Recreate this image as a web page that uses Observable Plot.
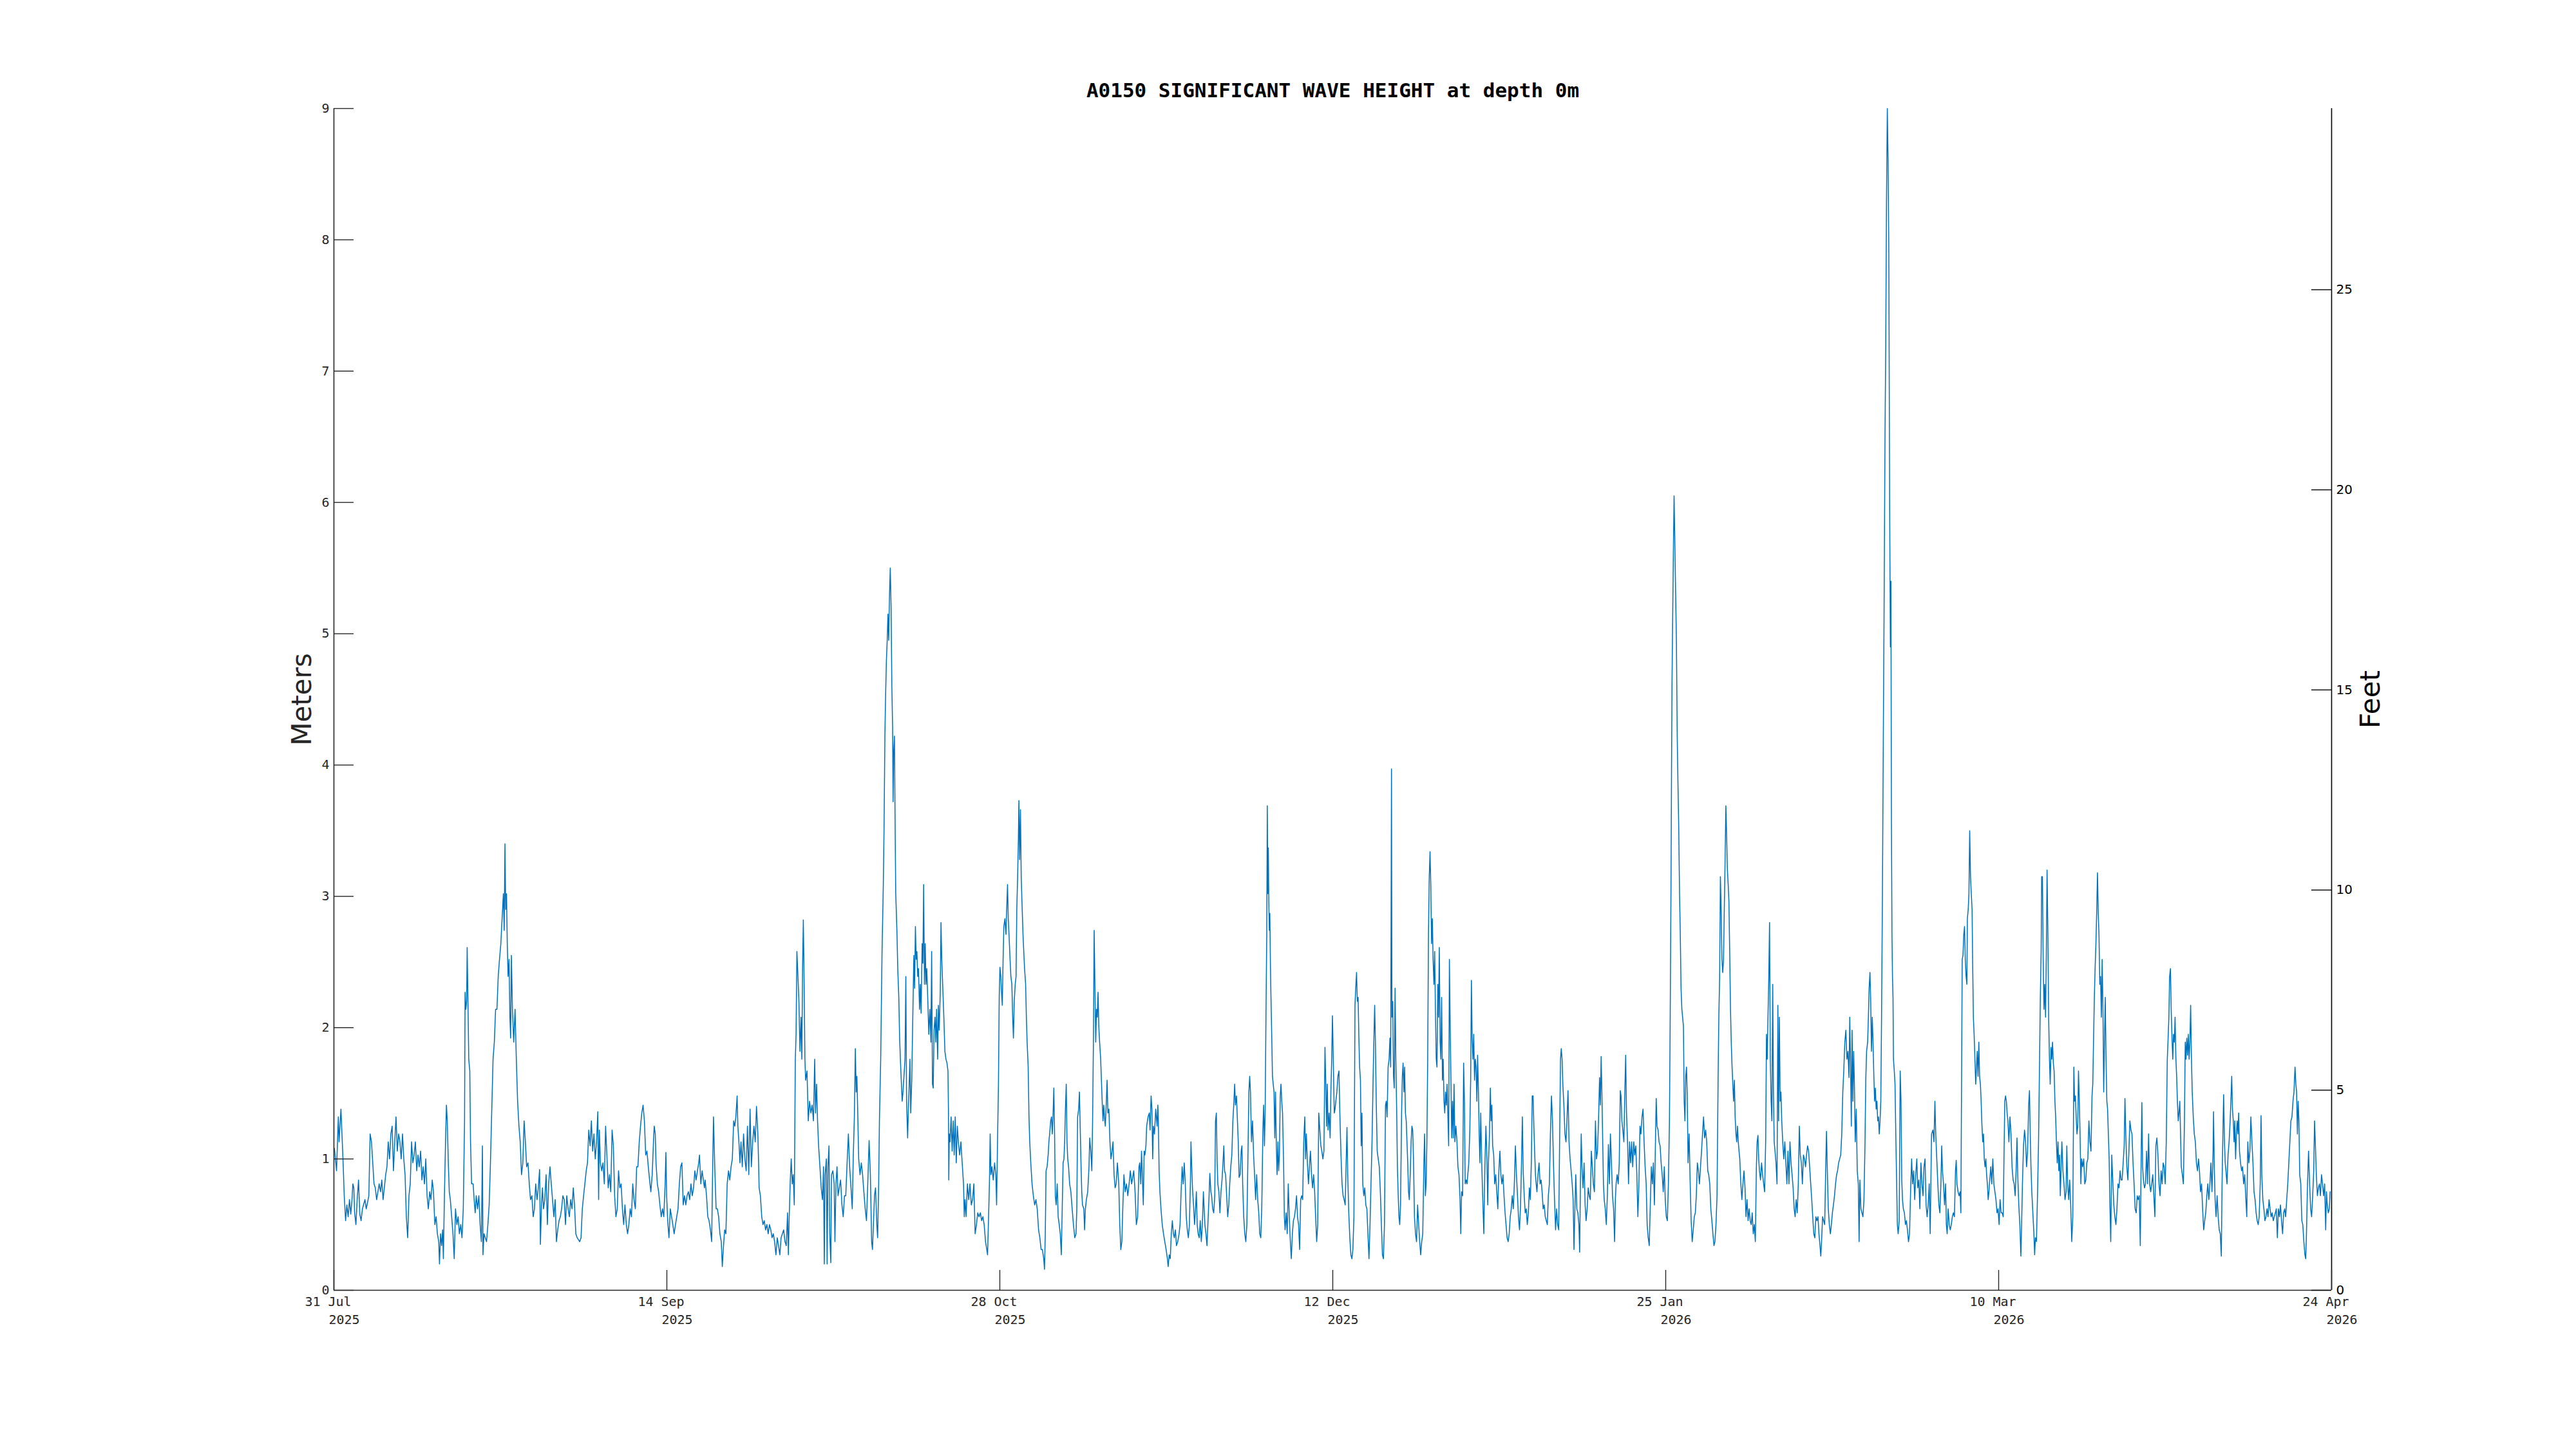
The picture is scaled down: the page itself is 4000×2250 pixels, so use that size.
<!DOCTYPE html>
<html>
<head>
<meta charset="utf-8">
<script src="https://cdn.jsdelivr.net/npm/d3@7"></script>
<script src="https://cdn.jsdelivr.net/npm/@observablehq/plot@0.6"></script>
<style>
  html, body { margin: 0; padding: 0; background: #ffffff; }
  #chart { width: 4000px; height: 2250px; }
</style>
</head>
<body>
<div id="chart"></div>
<script>
// ---------------- data ----------------
const chartTitle = "A0150 SIGNIFICANT WAVE HEIGHT at depth 0m";
const leftLabel = "Meters";
const rightLabel = "Feet";
const startDate = Date.UTC(2025, 6, 31); // 31 Jul 2025
const endDate = Date.UTC(2026, 3, 24);   // 24 Apr 2026
const xTickLabels = [
  ["31 Jul", "2025"], ["14 Sep", "2025"], ["28 Oct", "2025"], ["12 Dec", "2025"],
  ["25 Jan", "2026"], ["10 Mar", "2026"], ["24 Apr", "2026"]
];
const meterTicks = [0, 1, 2, 3, 4, 5, 6, 7, 8, 9];
const feetTicks = [0, 5, 10, 15, 20, 25];
const metersPerFoot = 0.3048;

// [days since 31 Jul 2025, significant wave height in metres]
const samples = [
[0.07,1.08],[0.35,0.91],[0.59,1.32],[0.69,1.13],[0.94,1.38],[1.21,1.00],[1.38,0.72],[1.56,0.53],[1.73,0.65],[1.90,0.56],
[2.08,0.69],[2.25,0.58],[2.42,0.69],[2.53,0.81],[2.66,0.78],[2.77,0.59],[2.94,0.50],[3.11,0.69],[3.29,0.84],[3.46,0.58],
[3.63,0.53],[3.81,0.62],[4.15,0.69],[4.32,0.62],[4.50,0.67],[4.67,0.72],[4.84,1.19],[5.02,1.13],[5.19,0.97],[5.36,0.81],
[5.53,0.78],[5.71,0.69],[5.88,0.75],[6.05,0.81],[6.23,0.75],[6.40,0.84],[6.57,0.69],[6.74,0.78],[6.92,0.88],[7.09,0.94],
[7.26,1.13],[7.44,1.00],[7.61,1.19],[7.78,1.25],[7.96,0.91],[8.13,1.13],[8.30,1.32],[8.47,1.06],[8.65,1.19],[8.82,1.13],
[8.99,1.00],[9.17,1.19],[9.34,1.00],[9.51,0.88],[9.68,0.56],[9.86,0.40],[10.03,0.72],[10.20,0.81],[10.38,1.13],[10.55,0.97],
[10.72,1.03],[10.89,1.13],[11.07,0.91],[11.24,1.03],[11.41,0.94],[11.59,1.06],[11.76,0.84],[11.93,0.94],[12.10,0.81],[12.28,1.00],
[12.45,0.72],[12.62,0.62],[12.80,0.75],[12.97,0.69],[13.14,0.84],[13.31,0.75],[13.49,0.50],[13.66,0.56],[13.83,0.43],[14.01,0.37],
[14.11,0.20],[14.25,0.43],[14.39,0.34],[14.53,0.46],[14.63,0.24],[14.77,0.72],[14.94,1.19],[15.04,1.41],[15.15,1.29],[15.29,0.97],
[15.42,0.75],[15.56,0.69],[15.74,0.56],[15.91,0.43],[16.08,0.24],[16.25,0.62],[16.43,0.50],[16.60,0.56],[16.77,0.43],[16.95,0.50],
[17.12,0.40],[17.29,0.62],[17.46,1.29],[17.53,2.27],[17.64,2.14],[17.74,2.20],[17.81,2.61],[17.91,2.23],[18.02,1.76],[18.16,1.67],
[18.26,1.13],[18.40,0.81],[18.61,0.81],[18.74,0.69],[18.88,0.59],[19.02,0.72],[19.19,0.62],[19.37,0.72],[19.54,0.50],[19.71,0.37],
[19.85,1.10],[19.92,0.27],[20.06,0.43],[20.23,0.40],[20.40,0.37],[20.58,0.50],[20.75,0.65],[20.92,0.97],[21.10,1.38],[21.27,1.76],
[21.44,1.89],[21.61,2.14],[21.79,2.14],[21.96,2.39],[22.13,2.52],[22.31,2.64],[22.48,2.83],[22.65,3.02],[22.76,2.74],[22.86,3.40],
[22.96,2.90],[23.07,3.02],[23.17,2.64],[23.28,2.39],[23.41,2.52],[23.52,2.08],[23.62,1.92],[23.72,2.55],[23.86,2.14],[24.03,1.89],
[24.21,2.14],[24.38,1.76],[24.55,1.44],[24.73,1.25],[24.90,1.13],[25.07,0.88],[25.25,0.97],[25.42,1.29],[25.59,1.13],[25.76,0.94],
[25.94,0.97],[26.11,0.81],[26.28,0.69],[26.46,0.72],[26.63,0.56],[26.80,0.62],[26.97,0.81],[27.15,0.69],[27.32,0.78],[27.49,0.92],
[27.60,0.35],[27.74,0.65],[27.87,0.78],[28.01,0.62],[28.18,0.69],[28.36,0.88],[28.53,0.50],[28.70,0.81],[28.88,0.94],[29.05,0.81],
[29.22,0.69],[29.40,0.56],[29.57,0.69],[29.74,0.37],[29.91,0.46],[30.09,0.53],[30.26,0.56],[30.43,0.62],[30.60,0.72],[30.78,0.69],
[30.95,0.50],[31.12,0.72],[31.30,0.62],[31.47,0.56],[31.64,0.69],[31.82,0.62],[31.99,0.78],[32.16,0.65],[32.33,0.43],[32.51,0.40],
[32.85,0.37],[33.03,0.40],[33.20,0.62],[33.37,0.72],[33.54,0.81],[33.72,0.91],[33.89,0.97],[34.06,1.22],[34.24,1.10],[34.41,1.29],
[34.58,1.06],[34.75,1.19],[34.93,1.00],[35.10,1.13],[35.27,1.36],[35.38,0.69],[35.48,1.22],[35.62,0.97],[35.79,0.91],[35.96,0.97],
[36.14,0.81],[36.31,1.25],[36.48,1.03],[36.66,0.78],[36.83,0.88],[37.00,0.75],[37.18,1.22],[37.35,1.10],[37.52,0.72],[37.69,0.56],
[37.87,0.62],[38.04,0.91],[38.21,0.78],[38.39,0.81],[38.56,0.62],[38.73,0.50],[38.90,0.65],[39.08,0.50],[39.25,0.43],[39.42,0.50],
[39.60,0.62],[39.77,0.56],[39.94,0.81],[40.11,0.69],[40.29,0.62],[40.46,0.94],[40.63,0.94],[40.81,1.13],[40.98,1.25],[41.15,1.35],
[41.32,1.41],[41.50,1.29],[41.67,1.03],[41.84,1.06],[42.02,0.94],[42.19,0.84],[42.36,0.75],[42.54,0.88],[42.71,1.13],[42.81,1.25],
[42.95,1.19],[43.05,0.97],[43.23,0.81],[43.40,0.75],[43.57,0.65],[43.75,0.56],[43.92,0.62],[44.09,0.56],[44.27,0.81],[44.37,1.05],
[44.47,0.72],[44.61,0.53],[44.78,0.40],[44.96,0.62],[45.13,0.56],[45.30,0.50],[45.47,0.43],[45.65,0.50],[45.82,0.56],[45.99,0.62],
[46.17,0.81],[46.34,0.94],[46.51,0.97],[46.69,0.65],[46.86,0.72],[47.03,0.65],[47.20,0.72],[47.38,0.75],[47.55,0.69],[47.72,0.81],
[47.90,0.72],[48.07,0.78],[48.24,0.91],[48.41,0.84],[48.59,0.91],[48.76,0.97],[48.86,1.03],[49.04,0.81],[49.21,0.91],[49.38,0.84],
[49.52,0.78],[49.62,0.84],[49.80,0.72],[49.97,0.56],[50.14,0.53],[50.32,0.46],[50.49,0.37],[50.59,0.81],[50.73,1.32],[50.90,0.94],
[51.08,0.62],[51.25,0.62],[51.42,0.56],[51.59,0.43],[51.77,0.37],[51.91,0.18],[52.04,0.31],[52.22,0.46],[52.39,0.43],[52.56,0.81],
[52.74,0.91],[52.91,0.84],[53.08,0.94],[53.25,1.00],[53.43,1.29],
[53.58,1.25],[53.72,1.32],[53.89,1.48],[53.99,1.25],[54.13,1.13],[54.27,0.97],[54.41,1.13],[54.58,0.94],[54.75,1.19],[54.93,1.00],
[55.10,0.91],[55.27,1.25],[55.45,0.88],[55.62,1.38],[55.79,0.94],[55.97,1.13],[56.14,1.25],[56.31,1.13],[56.48,1.40],[56.66,1.19],
[56.76,0.97],[56.83,0.78],[57.00,0.72],[57.18,0.56],[57.35,0.50],[57.52,0.53],[57.69,0.46],[57.87,0.50],[58.04,0.43],[58.21,0.50],
[58.39,0.46],[58.56,0.40],[58.73,0.43],[58.90,0.37],[59.08,0.27],[59.25,0.40],[59.42,0.34],[59.60,0.27],[59.77,0.40],[59.94,0.43],
[60.11,0.46],[60.29,0.37],[60.46,0.34],[60.63,0.59],[60.74,0.27],[60.84,0.53],[60.98,0.81],[61.12,1.00],[61.26,0.81],[61.39,0.88],
[61.53,0.65],[61.67,1.76],[61.77,1.95],[61.88,2.58],[62.02,2.39],[62.15,2.20],[62.29,1.82],[62.43,2.08],[62.54,1.76],[62.64,2.46],
[62.74,2.82],[62.85,2.33],[62.95,1.76],[63.05,1.60],[63.23,1.67],[63.40,1.29],[63.57,1.44],[63.75,1.35],[63.92,1.41],[64.09,1.29],
[64.26,1.76],[64.37,1.35],[64.51,1.57],[64.64,1.29],[64.78,1.10],[64.96,0.94],[65.13,0.78],[65.30,0.69],[65.44,0.94],[65.54,0.20],
[65.65,0.88],[65.82,1.00],[65.92,0.20],[66.03,0.94],[66.17,1.10],[66.27,0.43],[66.41,0.21],[66.51,0.88],[66.69,0.91],[66.86,0.81],
[66.96,0.37],[67.10,0.81],[67.24,0.94],[67.38,0.72],[67.55,0.78],[67.72,0.84],[67.90,0.65],[68.07,0.56],[68.24,0.72],[68.41,0.72],
[68.59,0.97],[68.76,1.19],[68.93,0.94],[69.11,0.78],[69.28,0.62],[69.42,1.03],[69.56,1.32],[69.69,1.84],[69.80,1.51],[69.90,1.63],
[70.00,1.38],[70.14,1.00],[70.32,0.88],[70.49,0.97],[70.66,0.88],[70.83,0.75],[71.01,0.62],[71.18,0.53],[71.35,0.81],[71.53,1.14],
[71.70,0.88],[71.87,0.37],[71.98,0.31],[72.11,0.50],[72.25,0.72],[72.39,0.78],[72.56,0.50],[72.67,0.40],[72.81,0.81],[72.91,1.29],
[73.08,1.76],[73.26,2.58],[73.43,3.09],[73.53,3.53],[73.64,4.22],[73.74,4.54],[73.84,4.79],[73.95,4.95],[74.05,5.15],[74.15,4.95],
[74.26,5.30],[74.36,5.50],[74.47,5.20],[74.57,4.60],[74.67,4.29],[74.74,3.72],[74.81,4.10],[74.92,4.22],[74.99,3.66],[75.09,3.02],
[75.16,2.90],[75.26,2.71],[75.36,2.45],[75.50,2.23],[75.61,1.92],[75.71,1.76],[75.85,1.57],[75.95,1.44],[76.06,1.51],[76.19,1.63],
[76.33,1.76],[76.44,2.39],[76.54,1.44],[76.68,1.16],[76.78,1.38],[76.89,1.57],[76.99,1.76],[77.09,1.35],[77.23,1.60],[77.37,2.08],
[77.51,2.55],[77.61,2.30],[77.72,2.77],[77.82,2.52],[77.92,2.58],[78.03,2.39],[78.13,2.45],[78.27,2.14],[78.37,2.33],[78.48,2.11],
[78.62,2.64],[78.72,2.49],[78.82,3.09],[78.93,2.33],[79.03,2.64],[79.13,2.33],[79.24,2.45],[79.38,2.20],[79.51,1.95],[79.65,2.14],
[79.79,1.89],[79.89,2.58],[80.00,1.57],[80.10,1.54],[80.21,1.98],[80.34,2.08],[80.45,1.89],[80.55,2.14],[80.69,1.76],[80.79,2.17],
[80.90,1.98],[81.04,2.27],[81.14,2.80],[81.24,2.52],[81.38,2.30],[81.52,2.08],[81.66,1.82],[81.80,1.76],[81.94,1.73],[82.07,1.67],
[82.14,1.35],[82.18,0.84],[82.25,1.19],[82.35,1.13],[82.49,1.32],[82.63,1.06],[82.77,1.29],[82.90,1.03],[83.04,1.32],[83.18,0.97],
[83.32,1.25],[83.46,1.13],[83.63,1.03],[83.80,1.13],[83.97,0.97],[84.15,0.81],[84.25,0.56],[84.36,0.69],[84.49,0.56],[84.67,0.81],
[84.84,0.69],[85.01,0.81],[85.19,0.65],[85.36,0.69],[85.53,0.81],[85.70,0.43],[85.88,0.50],[86.05,0.59],[86.22,0.56],[86.40,0.59],
[86.57,0.53],[86.74,0.56],[86.91,0.50],[87.09,0.37],[87.26,0.31],[87.36,0.27],[87.50,0.56],[87.61,0.81],[87.71,1.19],[87.81,0.88],
[87.95,0.94],[88.12,0.84],[88.30,0.97],[88.47,0.88],[88.57,0.65],[88.71,1.19],[88.82,1.57],[88.92,2.23],[89.02,2.46],[89.13,2.39],
[89.23,2.27],[89.33,2.17],[89.44,2.52],[89.54,2.77],[89.68,2.83],[89.82,2.71],[89.92,2.90],[90.03,3.09],[90.13,2.83],[90.23,2.71],
[90.37,2.52],[90.48,2.39],[90.61,2.33],[90.72,2.08],[90.82,1.92],[90.93,2.20],[91.06,2.33],[91.17,2.39],[91.27,2.90],[91.38,3.15],
[91.48,3.43],[91.55,3.73],[91.65,3.28],[91.76,3.66],[91.86,3.15],[91.96,2.96],[92.10,2.71],[92.20,2.58],[92.31,2.45],[92.45,2.33],
[92.55,2.08],[92.65,1.89],[92.79,1.70],[92.90,1.32],[93.00,1.13],[93.14,0.97],[93.31,0.81],[93.48,0.72],[93.66,0.65],[93.83,0.69],
[94.00,0.62],[94.18,0.46],[94.35,0.40],[94.52,0.31],[94.69,0.31],[94.87,0.24],[94.97,0.16],[95.08,0.43],[95.18,0.91],[95.32,0.94],
[95.46,1.03],[95.56,1.13],[95.66,1.19],[95.80,1.29],[95.91,1.32],[96.01,1.19],[96.11,1.32],[96.22,1.54],[96.32,1.19],[96.42,0.72],
[96.53,0.65],[96.67,0.81],[96.80,0.56],[96.94,0.50],[97.08,0.43],[97.22,0.27],[97.32,0.56],[97.46,0.97],[97.57,1.00],[97.67,1.13],
[97.77,1.38],[97.88,1.57],[97.98,1.13],[98.08,1.00],[98.19,0.94],[98.33,0.81],[98.50,0.75],[98.67,0.62],[98.84,0.50],[99.02,0.40],
[99.19,0.43],[99.29,0.62],[99.40,1.32],[99.54,1.38],[99.64,1.51],[99.74,1.25],[99.85,0.97],[99.95,0.75],[100.05,0.65],[100.23,0.62],
[100.33,0.46],[100.44,0.62],[100.57,0.69],[100.75,0.75],[100.92,0.94],[101.02,1.16],[101.16,1.06],[101.30,0.91],[101.40,1.29],[101.51,1.89],
[101.61,2.74],[101.71,2.33],[101.82,1.89],[101.92,2.14],[102.03,2.08],[102.13,2.27],[102.23,2.01],[102.34,1.89],[102.48,1.76],[102.58,1.60],
[102.68,1.44],[102.79,1.29],[102.89,1.41],[102.99,1.32],[103.10,1.25],[103.24,1.44],[103.34,1.60],[103.44,1.35],[103.58,1.38],[103.72,1.13],
[103.86,1.00],[104.00,1.06],[104.13,1.13],[104.27,0.88],[104.41,0.78],[104.55,0.81],[104.72,0.97],[104.90,0.81],[105.03,0.50],[105.17,0.31],
[105.31,0.37],[105.45,0.65],[105.59,0.88],[105.76,0.75],[105.93,0.81],[106.11,0.72],[106.28,0.81],[106.45,0.91],[106.62,0.81],
[106.90,0.91],[107.08,0.75],[107.25,0.50],[107.42,0.56],[107.60,0.94],[107.70,0.97],[107.84,0.81],[107.94,1.06],[108.05,0.88],[108.18,0.65],
[108.29,1.06],[108.39,1.03],[108.53,1.10],[108.63,1.25],[108.81,1.32],[108.98,1.35],[109.08,1.22],[109.22,1.48],[109.33,1.38],[109.43,1.00],
[109.53,1.25],[109.67,1.19],[109.84,1.38],[110.02,1.25],[110.12,1.41],[110.19,1.29],[110.29,0.91],[110.40,0.75],[110.54,0.62],[110.71,0.50],
[110.88,0.43],[111.05,0.37],[111.23,0.31],[111.40,0.24],[111.50,0.18],[111.64,0.27],[111.78,0.24],[111.92,0.43],[112.06,0.53],[112.20,0.43],
[112.33,0.40],[112.47,0.46],[112.61,0.34],[112.78,0.37],[112.96,0.43],[113.09,0.50],[113.23,0.75],[113.37,0.94],[113.51,0.81],[113.65,0.97],
[113.79,0.81],[113.92,0.56],[114.06,0.46],[114.20,0.40],[114.34,0.50],[114.48,0.84],[114.55,1.13],[114.65,0.94],[114.75,0.78],[114.89,0.65],
[115.03,0.50],[115.13,0.59],[115.27,0.75],[115.38,0.50],[115.51,0.43],[115.65,0.40],[115.79,0.53],[115.93,0.37],[116.07,0.50],[116.21,0.75],
[116.31,0.62],[116.41,0.50],[116.55,0.43],[116.69,0.34],[116.83,0.53],[116.97,0.72],[117.07,0.89],[117.21,0.75],[117.31,0.72],[117.45,0.62],
[117.59,0.59],[117.73,0.72],[117.83,1.29],[117.94,1.35],[118.04,1.00],[118.14,0.81],[118.28,0.75],[118.42,0.59],[118.56,0.75],[118.70,0.84],
[118.83,0.97],[118.94,1.10],[119.04,0.91],[119.18,0.88],[119.32,0.72],[119.46,0.56],[119.60,0.65],[119.73,0.81],[119.87,0.94],[120.01,1.03],
[120.15,1.29],[120.29,1.44],[120.39,1.57],[120.49,1.41],[120.63,1.48],[120.74,1.32],[120.87,1.13],[120.98,0.86],[121.12,0.88],[121.26,1.06],
[121.36,1.10],[121.46,0.81],[121.60,0.56],[121.74,0.43],[121.88,0.37],[122.02,0.50],[122.15,0.97],[122.29,1.51],[122.40,1.63],[122.50,1.51],
[122.64,1.13],[122.78,1.29],[122.92,1.03],[123.05,0.88],[123.19,0.69],[123.33,0.88],[123.47,0.69],[123.61,0.59],[123.74,0.43],[123.88,0.40],
[124.02,0.65],[124.16,1.22],[124.26,1.41],[124.37,1.10],[124.47,1.38],[124.57,2.08],[124.68,2.71],[124.75,3.69],[124.82,3.02],[124.89,3.37],
[124.95,2.96],[125.02,2.74],[125.09,2.87],[125.16,2.52],[125.23,2.27],[125.34,1.95],[125.44,1.63],[125.54,1.57],[125.65,1.51],[125.75,1.16],
[125.85,1.51],[125.96,1.10],[126.06,0.88],[126.17,1.13],[126.27,0.91],[126.37,1.03],[126.48,1.48],[126.58,1.57],[126.68,1.44],[126.79,1.35],
[126.93,0.97],[127.03,0.56],[127.13,0.46],[127.27,0.59],[127.41,0.43],[127.55,0.81],[127.69,0.56],[127.83,0.37],[127.96,0.24],[128.10,0.43],
[128.24,0.53],[128.38,0.56],[128.52,0.62],[128.66,0.72],[128.79,0.56],[128.93,0.50],[129.07,0.31],[129.21,0.69],[129.35,0.72],[129.48,0.69],
[129.62,1.13],[129.76,1.32],[129.87,1.00],[129.97,1.19],[130.11,0.97],[130.25,0.81],[130.38,0.94],[130.52,1.06],[130.66,0.88],[130.80,0.78],
[130.94,0.88],[131.08,0.75],[131.21,0.56],[131.35,0.37],[131.49,0.50],[131.63,1.35],[131.77,1.22],[131.91,1.10],[132.04,1.06],[132.18,1.00],
[132.32,1.06],[132.46,1.85],[132.56,1.60],[132.67,1.25],[132.77,1.57],[132.87,1.22],[133.01,1.35],[133.15,1.16],[133.25,1.51],[133.36,1.76],
[133.46,2.09],[133.57,1.76],[133.70,1.35],[133.81,1.38],[133.91,1.44],[134.05,1.51],[134.19,1.63],[134.33,1.67],[134.46,1.32],[134.60,1.03],
[134.74,0.81],[134.88,0.72],[135.02,0.69],[135.16,0.65],[135.29,0.97],[135.40,1.24],[135.50,0.88],[135.64,0.59],[135.78,0.40],[135.92,0.27],
[136.06,0.24],[136.19,0.31],[136.33,0.56],[136.47,2.17],[136.57,2.30],[136.68,2.42],[136.78,2.20],[136.89,2.23],[136.99,1.92],[137.09,1.70],
[137.20,1.60],[137.30,1.10],[137.40,1.35],[137.51,0.81],[137.65,0.72],[137.78,0.78],[137.92,0.65],[138.06,0.62],[138.20,0.43],[138.34,0.24],
[138.48,0.50],[138.61,0.81],[138.75,1.13],[138.89,1.60],[138.99,1.89],[139.10,2.17],[139.20,1.89],[139.31,1.44],[139.44,1.06],[139.58,1.00],
[139.72,0.94],[139.86,0.75],[140.00,0.50],[140.14,0.27],[140.27,0.24],[140.41,0.50],[140.55,1.41],[140.65,1.44],[140.76,1.32],[140.90,1.70],
[141.03,1.76],[141.14,1.92],[141.24,1.70],[141.35,3.97],[141.41,2.08],[141.52,2.20],[141.62,1.63],[141.72,1.54],[141.83,2.30],[141.93,1.76],
[142.04,1.38],[142.14,0.94],[142.25,0.72],[142.35,0.56],[142.45,0.50],[142.56,0.65],[142.70,1.35],[142.80,1.63],[142.90,1.73],[143.01,1.51],
[143.11,1.70],[143.21,1.35],[143.32,1.29],[143.42,1.13],[143.52,0.97],[143.63,0.75],[143.73,0.69],[143.87,0.91],[143.97,1.13],[144.08,1.25],
[144.18,1.22],[144.29,1.00],[144.42,0.56],[144.56,0.43],[144.70,0.37],[144.84,0.65],[144.98,0.50],[145.12,0.37],[145.25,0.27],[145.39,0.37],
[145.53,0.43],[145.67,0.94],[145.77,1.19],[145.88,0.72],[145.98,0.81],[146.08,1.13],[146.19,1.76],[146.29,2.71],[146.40,3.15],[146.50,3.34],
[146.60,3.09],[146.71,2.64],[146.81,2.83],[146.91,2.52],[147.02,2.33],[147.12,2.58],[147.22,2.14],[147.33,1.76],[147.43,1.70],[147.54,2.33],
[147.64,2.08],[147.74,2.61],[147.85,1.89],[147.95,1.76],[148.05,2.23],[148.16,1.60],[148.26,1.76],[148.37,1.44],[148.47,1.35],[148.57,1.51],
[148.68,1.41],[148.78,1.57],[148.88,1.35],[148.99,1.10],[149.09,2.52],[149.20,1.98],[149.30,1.60],[149.40,1.16],[149.51,1.44],[149.61,1.16],
[149.71,1.57],[149.82,1.13],[149.96,1.25],[150.10,1.13],[150.23,0.94],[150.37,0.88],[150.51,0.69],[150.61,0.43],[150.72,0.75],[150.86,0.72],
[150.99,1.73],[151.10,1.44],[151.20,0.81],[151.34,0.84],[151.44,0.81],[151.55,0.88],[151.68,0.97],[151.82,1.22],[151.93,1.60],[152.03,2.36],
[152.13,1.92],[152.24,1.76],[152.34,1.95],[152.45,1.60],[152.55,1.76],[152.65,1.70],[152.76,1.44],[152.86,1.79],[152.97,1.51],[153.07,1.19],
[153.17,0.97],[153.28,1.35],[153.41,0.97],[153.55,0.69],[153.69,0.43],[153.83,0.94],[153.97,1.25],[154.11,1.00],[154.21,0.65],[154.31,0.97],
[154.45,1.19],[154.56,1.54],[154.66,1.29],[154.76,1.41],[154.87,1.10],[155.01,1.03],[155.14,0.81],[155.28,0.88],[155.42,0.75],[155.56,0.62],
[155.70,0.91],[155.84,1.06],[155.97,0.88],[156.11,0.81],[156.25,0.88],[156.39,0.72],[156.53,0.59],[156.66,0.50],[156.80,0.40],[156.94,0.37],
[157.08,0.43],[157.22,0.56],[157.36,0.62],[157.49,0.72],[157.63,0.62],[157.77,0.81],[157.91,1.10],[158.05,0.88],[158.19,0.72],[158.32,0.56],
[158.46,0.46],[158.60,0.65],[158.74,1.00],[158.84,1.32],[158.95,0.91],[159.09,0.72],[159.22,0.59],[159.36,0.62],[159.50,0.50],[159.64,0.59],
[159.78,0.78],[159.91,0.69],[160.05,1.00],[160.16,1.48],
[160.27,1.48],[160.38,1.25],[160.48,1.06],[160.59,0.88],[160.69,0.81],[160.79,0.75],[160.93,0.88],[161.07,0.97],[161.21,0.81],[161.35,0.84],
[161.48,0.75],[161.62,0.62],[161.76,0.65],[161.90,0.56],[162.04,0.53],[162.18,0.50],[162.31,0.72],[162.45,0.81],[162.59,1.19],[162.73,1.48],
[162.87,1.29],[163.01,0.94],[163.14,0.69],[163.28,0.46],[163.42,0.62],[163.56,0.50],[163.70,0.46],[163.84,1.25],[163.94,1.76],[164.04,1.84],
[164.15,1.76],[164.25,1.57],[164.39,1.41],[164.53,1.19],[164.67,1.13],[164.80,1.29],[164.94,1.52],[165.08,1.13],[165.22,1.00],[165.36,0.91],
[165.50,0.81],[165.63,0.69],[165.74,0.31],[165.84,0.56],[165.98,0.88],[166.12,0.62],[166.26,0.59],[166.40,0.50],[166.50,0.29],[166.60,0.81],
[166.71,1.19],[166.81,0.94],[166.95,0.78],[167.09,0.97],[167.23,0.65],[167.36,0.53],[167.50,0.62],[167.64,0.78],[167.78,0.72],[167.92,0.69],
[168.06,1.06],[168.19,0.94],[168.33,0.81],[168.47,0.75],[168.61,1.29],[168.75,1.00],[168.88,1.06],[169.02,1.29],[169.16,1.62],[169.27,1.41],
[169.37,1.78],[169.47,1.51],[169.58,1.13],[169.68,0.81],[169.78,0.69],[169.92,0.62],[170.06,0.50],[170.20,0.72],[170.34,1.11],[170.48,0.81],
[170.61,1.19],[170.75,0.97],[170.89,0.72],[171.03,0.62],[171.17,0.37],[171.27,0.69],[171.37,0.81],[171.51,0.88],[171.65,0.81],[171.79,0.97],
[171.93,1.52],[172.03,1.48],[172.14,1.29],[172.27,1.22],[172.41,1.13],[172.55,1.54],[172.65,1.79],[172.76,1.35],[172.90,1.13],[173.03,0.81],
[173.17,1.13],[173.31,0.97],[173.45,1.13],[173.59,0.94],[173.73,1.13],[173.86,1.03],[174.00,1.10],[174.14,0.88],[174.28,0.56],[174.42,0.81],
[174.56,1.25],[174.69,1.19],[174.83,1.32],[174.97,1.38],[175.11,1.13],[175.25,0.94],[175.39,0.81],[175.52,0.50],[175.66,0.40],[175.80,0.34],
[175.94,0.65],[176.08,0.94],[176.22,0.81],[176.35,0.97],[176.49,0.65],[176.63,1.13],[176.73,1.46],[176.84,1.25],[176.98,1.22],[177.11,1.13],
[177.25,1.10],[177.39,0.97],[177.53,0.88],[177.67,0.75],[177.81,0.94],[177.94,0.69],[178.08,0.56],[178.22,0.53],[178.36,0.81],[178.50,1.29],
[178.60,2.08],[178.71,3.09],[178.78,3.97],[178.84,4.60],[178.91,5.00],[179.02,5.60],[179.12,6.05],[179.22,5.70],[179.33,5.30],[179.43,4.95],
[179.54,4.22],[179.64,3.85],[179.74,3.53],[179.85,3.02],[179.95,2.71],[180.05,2.30],[180.16,2.14],[180.26,2.08],[180.37,2.01],[180.47,1.44],
[180.57,1.29],[180.68,1.63],[180.78,1.70],[180.88,1.48],[180.99,0.97],[181.13,1.19],[181.26,0.84],[181.40,0.53],[181.54,0.37],[181.68,0.46],
[181.82,0.56],[181.96,0.59],[182.09,0.72],[182.23,0.97],[182.37,0.91],[182.51,0.81],[182.65,0.94],[182.79,1.06],[182.92,1.19],[183.06,1.32],
[183.20,1.16],[183.34,1.22],[183.48,1.13],[183.62,0.91],[183.75,0.88],[183.89,0.81],[184.03,0.62],[184.17,0.53],[184.31,0.43],[184.45,0.34],
[184.58,0.37],[184.72,0.50],[184.86,0.72],[185.00,1.60],[185.10,2.08],[185.21,2.39],[185.31,3.15],[185.41,2.90],[185.52,2.52],[185.62,2.42],
[185.73,2.52],[185.83,2.90],[185.93,3.24],[186.04,3.69],[186.14,3.47],[186.24,3.21],[186.35,3.09],[186.45,2.96],[186.56,2.55],[186.66,2.14],
[186.76,1.89],[186.87,1.70],[186.97,1.57],[187.07,1.44],[187.18,1.60],[187.28,1.32],[187.39,1.19],[187.49,1.13],[187.59,1.25],[187.70,1.13],
[187.80,1.06],[187.90,1.00],[188.04,0.81],[188.18,0.69],[188.32,0.81],[188.46,0.91],[188.60,0.78],[188.73,0.56],[188.87,0.69],[189.01,0.53],
[189.15,0.62],[189.29,0.53],[189.43,0.50],[189.56,0.59],[189.70,0.43],[189.84,0.50],[189.98,0.37],[190.12,0.94],[190.22,1.13],[190.33,1.18],
[190.43,1.00],[190.53,0.91],[190.67,0.84],[190.81,0.97],[190.95,0.88],[191.09,0.81],[191.22,0.75],[191.36,1.13],[191.47,1.95],[191.57,1.76],
[191.67,2.08],[191.78,2.39],[191.88,2.80],[191.98,1.76],[192.09,1.44],[192.19,1.29],[192.30,2.33],[192.40,1.51],[192.50,1.13],[192.61,1.06],
[192.74,0.97],[192.88,0.81],[192.99,2.17],[193.09,1.29],[193.19,2.08],[193.30,1.44],[193.40,1.51],[193.51,1.29],[193.64,1.13],[193.78,1.00],
[193.92,1.13],[194.06,0.97],[194.20,0.81],[194.34,1.06],[194.47,0.81],[194.61,1.13],[194.75,0.97],[194.89,0.88],[195.03,0.78],[195.17,0.62],
[195.30,0.56],[195.44,0.69],[195.58,0.59],[195.72,0.81],[195.86,1.25],[195.99,1.03],[196.13,0.97],[196.27,0.81],[196.41,1.03],[196.55,1.00],
[196.69,0.94],[196.82,1.03],[196.96,1.10],[197.10,1.06],[197.24,0.94],[197.38,0.81],[197.52,0.69],[197.65,0.56],[197.79,0.43],[197.93,0.40],
[198.07,0.56],[198.21,0.53],[198.35,0.56],[198.48,0.43],[198.62,0.34],[198.73,0.26],[198.83,0.37],[198.97,0.56],[199.11,0.53],[199.25,0.50],
[199.39,0.94],[199.49,1.21],[199.59,0.94],[199.73,0.62],[199.87,0.50],[200.01,0.43],[200.14,0.50],[200.28,0.59],[200.42,0.65],[200.56,0.72],
[200.70,0.81],[200.84,0.88],[200.97,0.91],[201.11,0.97],[201.25,1.00],[201.39,1.03],[201.53,1.19],[201.67,1.51],[201.80,1.67],[201.94,1.89],
[202.08,1.98],[202.22,1.76],[202.36,1.82],[202.50,1.62],[202.60,2.08],[202.70,1.76],[202.81,1.25],[202.91,1.98],[203.02,1.44],[203.12,1.82],
[203.22,1.57],[203.33,1.13],[203.47,1.38],[203.60,0.91],[203.74,0.81],[203.85,0.37],[203.95,0.84],[204.09,0.62],[204.23,0.59],[204.36,0.56],
[204.50,0.69],[204.64,1.13],[204.74,1.60],[204.85,1.82],[204.99,1.89],[205.09,2.08],[205.19,2.30],[205.30,2.42],[205.40,2.20],[205.50,1.82],
[205.61,2.08],[205.71,1.89],[205.82,1.63],[205.92,1.44],[206.02,1.54],[206.13,1.38],[206.23,1.44],[206.34,1.29],[206.44,1.32],[206.54,1.19],
[206.65,1.29],[206.75,1.44],[206.85,2.08],[206.96,2.96],[207.06,3.97],[207.17,5.00],[207.31,6.50],[207.41,7.20],[207.51,8.30],[207.62,9.00],
[207.72,8.60],[207.82,7.90],[207.93,6.00],[208.03,4.90],[208.10,5.40],[208.17,3.59],[208.24,2.71],[208.31,2.39],[208.38,2.23],[208.44,1.76],
[208.55,1.67],[208.65,1.57],[208.76,1.16],[208.86,0.84],[208.96,0.50],[209.07,0.43],[209.21,0.53],[209.34,1.67],[209.45,1.44],[209.55,0.84],
[209.65,0.69],[209.76,0.62],[209.90,0.59],[210.04,0.50],[210.17,0.53],[210.31,0.46],[210.45,0.37],[210.59,0.43],[210.73,0.75],[210.87,1.00],
[211.00,0.81],[211.14,0.91],[211.28,0.69],[211.42,0.88],[211.56,1.00],[211.69,0.78],[211.83,0.84],[211.97,0.62],[212.11,0.97],[212.25,0.81],
[212.39,0.72],[212.52,0.94],[212.66,1.00],[212.80,0.65],[212.94,0.56],[213.08,0.65],[213.22,0.81],[213.35,0.43],[213.53,1.19],
[213.71,1.22],[213.85,1.13],[213.98,1.44],[214.09,1.19],[214.23,1.00],[214.37,0.81],[214.51,0.65],[214.64,0.59],[214.78,0.81],[214.89,1.10],
[214.99,0.91],[215.13,0.81],[215.27,0.65],[215.41,0.81],[215.51,0.50],[215.62,0.43],[215.75,0.62],[215.89,0.50],[216.03,0.46],[216.17,0.50],
[216.31,0.56],[216.45,0.59],[216.59,0.56],[216.73,0.91],[216.83,0.99],[216.93,0.81],[217.07,0.75],[217.21,0.72],[217.35,0.75],[217.45,0.59],
[217.56,1.76],[217.63,2.52],[217.73,2.55],[217.84,2.71],[217.94,2.77],[218.04,2.52],[218.15,2.39],[218.25,2.33],[218.32,2.83],[218.43,2.90],
[218.53,3.02],[218.63,3.50],[218.74,3.15],[218.84,3.02],[218.95,2.90],[219.02,2.52],[219.12,2.08],[219.22,1.95],[219.33,1.76],[219.43,1.57],
[219.54,1.70],[219.64,1.82],[219.74,1.63],[219.85,1.89],[219.95,1.63],[220.06,1.57],[220.16,1.44],[220.27,1.25],[220.37,1.13],[220.47,1.19],
[220.58,1.00],[220.68,0.94],[220.79,1.00],[220.89,0.88],[220.99,0.81],[221.10,0.69],[221.20,0.75],[221.31,0.84],[221.45,0.94],[221.58,0.81],
[221.72,1.00],[221.86,0.81],[222.00,0.75],[222.14,0.69],[222.28,0.59],[222.42,0.62],[222.56,0.50],[222.69,0.69],[222.83,0.59],[222.97,0.59],
[223.11,0.56],[223.21,1.00],[223.32,1.44],[223.42,1.48],[223.53,1.44],[223.63,1.35],[223.74,1.29],[223.87,1.13],[224.01,1.32],[224.15,1.19],
[224.29,0.94],[224.43,0.84],[224.57,0.81],[224.71,0.72],[224.85,0.94],[224.95,1.16],[225.05,0.88],[225.19,0.65],[225.33,0.50],[225.47,0.26],
[225.57,0.50],[225.68,0.81],[225.82,1.10],[225.96,1.22],[226.10,1.13],[226.23,0.94],[226.37,1.06],[226.51,1.41],[226.62,1.52],[226.72,1.19],
[226.82,0.94],[226.93,0.75],[227.07,0.59],[227.21,0.43],[227.31,0.27],[227.41,0.40],[227.55,0.37],[227.69,0.72],[227.83,1.13],[227.97,1.76],
[228.07,2.23],[228.18,2.58],[228.25,3.15],[228.35,3.15],[228.45,2.52],[228.56,2.14],[228.66,2.33],[228.77,2.08],[228.87,2.55],[228.97,3.20],
[229.08,2.71],[229.18,2.08],[229.29,1.76],[229.39,1.57],[229.50,1.85],[229.60,1.76],[229.70,1.89],[229.81,1.73],[229.91,1.67],[230.02,1.44],
[230.12,1.32],[230.22,1.13],[230.33,0.97],[230.43,1.13],[230.54,0.91],[230.64,1.03],[230.74,0.72],[230.85,0.94],[230.95,1.13],[231.09,0.91],
[231.23,0.81],[231.37,0.69],[231.51,0.75],[231.61,1.10],[231.72,0.81],[231.86,0.69],[231.99,0.84],[232.13,0.65],[232.27,0.37],[232.41,0.56],
[232.55,1.70],[232.65,1.44],[232.76,1.48],[232.86,1.32],[232.97,1.19],[233.07,1.25],[233.17,1.67],[233.28,1.44],[233.38,1.19],[233.49,0.81],
[233.59,1.00],[233.73,0.94],[233.87,1.00],[234.01,0.81],[234.15,0.84],[234.28,0.97],[234.42,1.00],[234.56,1.29],[234.70,1.13],[234.84,1.06],
[234.98,1.48],[235.08,1.57],[235.19,1.92],[235.29,2.23],[235.39,2.45],[235.50,2.64],[235.60,2.87],[235.71,3.18],[235.81,2.87],[235.91,2.71],
[236.02,2.33],[236.12,2.39],[236.23,2.08],[236.33,2.52],[236.44,2.14],[236.54,1.51],[236.64,1.89],[236.75,2.23],[236.85,1.76],[236.96,1.44],
[237.06,1.38],[237.16,1.19],[237.27,1.00],[237.37,0.65],[237.48,0.37],[237.62,1.03],[237.75,0.84],[237.89,0.65],[238.03,0.56],[238.17,0.50],
[238.31,0.62],[238.45,0.81],[238.59,0.78],[238.73,0.91],[238.86,0.84],[239.00,0.84],[239.14,0.97],[239.28,1.10],[239.38,1.46],[239.49,1.19],
[239.63,0.94],[239.77,0.84],[239.91,1.06],[240.04,1.29],[240.18,1.22],[240.32,1.19],[240.46,0.97],[240.60,0.81],[240.74,0.62],[240.88,0.59],
[241.02,0.72],[241.15,0.69],[241.29,0.72],[241.43,0.34],[241.54,0.97],[241.64,1.43],[241.74,0.94],[241.85,0.84],[241.99,0.78],[242.13,0.81],
[242.27,1.06],[242.40,0.81],[242.54,1.19],[242.68,0.81],[242.82,0.75],[242.96,0.81],[243.10,0.88],[243.24,0.72],[243.38,0.56],[243.51,1.10],
[243.65,1.16],[243.79,1.03],[243.93,0.81],[244.07,0.72],[244.21,0.91],[244.35,0.81],[244.49,0.97],[244.62,0.94],[244.76,0.81],[244.90,1.13],
[245.04,1.76],[245.15,1.92],[245.25,2.08],[245.35,2.39],[245.46,2.45],[245.56,2.14],[245.67,1.92],[245.77,1.76],[245.87,1.95],[245.98,1.89],
[246.08,2.08],[246.19,1.76],[246.29,1.63],[246.39,1.44],[246.50,1.29],[246.60,1.35],[246.71,1.44],[246.81,1.19],[246.91,0.94],[247.05,0.88],
[247.19,0.81],[247.33,1.29],[247.44,1.89],[247.54,1.76],[247.64,1.92],[247.75,1.79],[247.85,1.95],[247.96,1.76],[248.06,1.89],[248.16,2.17],
[248.27,1.76],[248.37,1.51],[248.51,1.32],[248.65,1.19],[248.79,1.13],[248.93,0.97],[249.07,0.91],[249.21,1.00],[249.34,0.91],[249.48,0.75],
[249.62,0.81],[249.76,0.62],[249.90,0.46],[250.04,0.53],[250.18,0.59],[250.32,0.72],[250.45,0.81],[250.59,0.69],[250.73,0.81],[250.87,0.97],
[251.01,0.75],[251.15,1.03],[251.22,1.36],[251.32,0.94],[251.43,0.69],[251.56,0.56],[251.70,0.72],[251.84,0.56],[251.98,0.46],[252.12,0.43],
[252.26,0.26],[252.36,0.81],[252.47,1.19],[252.57,1.49],[252.68,1.13],[252.78,0.97],[252.88,0.91],[253.02,0.81],[253.16,1.03],[253.30,1.13],
[253.44,1.29],[253.54,1.44],[253.65,1.63],[253.75,1.38],[253.86,1.29],[253.96,1.13],[254.06,1.29],[254.17,1.00],[254.27,1.19],[254.38,1.29],
[254.48,1.19],[254.58,1.35],[254.69,1.06],[254.83,0.97],[254.97,0.91],[255.10,0.94],[255.24,0.81],[255.38,0.88],[255.52,0.72],[255.66,0.56],
[255.80,1.13],[255.94,0.97],[256.08,1.06],[256.21,1.32],[256.35,1.13],[256.49,0.97],[256.63,0.75],[256.77,0.69],[256.91,0.59],[257.05,0.53],
[257.19,0.50],[257.32,0.56],[257.46,0.81],[257.57,1.33],[257.67,0.88],[257.81,0.69],[257.95,0.62],[258.09,0.53],[258.23,0.56],[258.37,0.62],
[258.50,0.56],[258.64,0.69],[258.78,0.62],[258.92,0.56],[259.06,0.59],[259.20,0.53],[259.34,0.56],[259.48,0.59],[259.61,0.62],[259.75,0.40],
[259.89,0.62],[260.03,0.56],[260.17,0.65],[260.31,0.53],[260.45,0.43],[260.59,0.59],[260.73,0.62],[260.86,0.56],[261.00,0.69],[261.14,0.81],
[261.28,0.97],[261.42,1.13],[261.56,1.29],[261.70,1.32],[261.84,1.44],[261.97,1.51],[262.11,1.70],[262.22,1.57],[262.32,1.51],[262.43,1.19],
[262.53,1.44],[262.63,1.29],[262.74,0.88],[262.88,0.81],[263.02,0.53],[263.15,0.50],[263.29,0.37],[263.43,0.27],[263.54,0.24],[263.64,0.43],
[263.78,0.81],[263.92,1.06],[264.06,0.81],[264.20,0.62],[264.33,0.56],[264.47,0.72],[264.61,0.91],[264.72,1.29],[264.82,1.13],[264.96,0.88],
[265.10,0.72],[265.24,0.78],[265.38,0.81],[265.51,0.72],[265.65,0.88],[265.79,0.81],[265.93,0.72],[266.07,0.81],[266.21,0.46],[266.31,0.75],
[266.42,0.65],[266.56,0.59],[266.70,0.62],[266.80,0.75]
];

// ---------------- chart ----------------
const W = 4000, H = 2250;
const M = {left: 518, right: 380, top: 168, bottom: 247};
const frameW = W - M.left - M.right;
const frameH = H - M.top - M.bottom;
const tickLen = 31;
const DAY = 86400000;

const data = samples.map(([d, v]) => ({date: new Date(startDate + d * DAY), hs: v}));
const xTickDates = xTickLabels.map((_, i) => new Date(startDate + i * (endDate - startDate) / (xTickLabels.length - 1)));
const xTicks = xTickDates.map((date, i) => ({date, top: xTickLabels[i][0], bottom: xTickLabels[i][1]}));
const axisColor = "#262626";
const mono = "DejaVu Sans Mono";
const sans = "DejaVu Sans";

const chart = Plot.plot({
  width: W,
  height: H,
  marginLeft: M.left,
  marginRight: M.right,
  marginTop: M.top,
  marginBottom: M.bottom,
  style: {background: "#ffffff", fontFamily: mono, fontSize: "20px", color: axisColor, overflow: "visible"},
  x: {type: "utc", domain: [new Date(startDate), new Date(endDate)], axis: null},
  y: {domain: [0, 9], axis: null},
  marks: [
    // data line
    Plot.lineY(data, {x: "date", y: "hs", stroke: "#0072BD", strokeWidth: 1.5, strokeLinejoin: "round"}),
    // axis lines (left, bottom, right)
    Plot.ruleX([new Date(startDate)], {stroke: axisColor, strokeWidth: 1.6}),
    Plot.ruleX([new Date(endDate)], {stroke: "#000000", strokeWidth: 1.6}),
    Plot.ruleY([0], {stroke: axisColor, strokeWidth: 1.6}),
    // inward ticks, left (metres)
    Plot.tickY(meterTicks, {y: d => d, stroke: axisColor, strokeWidth: 1.4, insetRight: frameW - tickLen}),
    // inward ticks, right (feet)
    Plot.tickY(feetTicks, {y: d => d * metersPerFoot, stroke: "#000000", strokeWidth: 1.4, insetLeft: frameW - tickLen}),
    // inward ticks, bottom (dates)
    Plot.tickX(xTickDates, {x: d => d, stroke: axisColor, strokeWidth: 1.4, insetTop: frameH - tickLen}),
    // left tick labels
    Plot.axisY({ticks: meterTicks, tickSize: 0, tickPadding: 7, label: null, fontSize: 20, fill: axisColor, tickFormat: d => String(d)}),
    // right tick labels (feet)
    Plot.text(feetTicks, {y: d => d * metersPerFoot, text: d => String(d), frameAnchor: "right", dx: 7, textAnchor: "start", fontSize: 20, fontFamily: sans, fill: "#000000"}),
    // bottom tick labels (two lines)
    Plot.text(xTicks, {x: "date", text: "top", frameAnchor: "bottom", dy: 18, dx: -9, textAnchor: "middle", lineAnchor: "middle", fontSize: 20, fontFamily: mono, fill: axisColor}),
    Plot.text(xTicks, {x: "date", text: "bottom", frameAnchor: "bottom", dy: 46, dx: 16, textAnchor: "middle", lineAnchor: "middle", fontSize: 20, fontFamily: mono, fill: axisColor}),
    // axis titles
    Plot.text([leftLabel], {frameAnchor: "left", dx: -49, rotate: -90, text: d => d, fontSize: 42, fontFamily: sans, fill: axisColor, textAnchor: "middle", lineAnchor: "middle"}),
    Plot.text([rightLabel], {frameAnchor: "right", dx: 61, rotate: -90, text: d => d, fontSize: 42, fontFamily: sans, fill: "#000000", textAnchor: "middle", lineAnchor: "middle"}),
    // chart title
    Plot.text([chartTitle], {frameAnchor: "top", dy: -27, text: d => d, fontSize: 31, fontWeight: "bold", fontFamily: mono, fill: "#000000", textAnchor: "middle", lineAnchor: "middle"})
  ]
});

document.getElementById("chart").appendChild(chart);
</script>
</body>
</html>
